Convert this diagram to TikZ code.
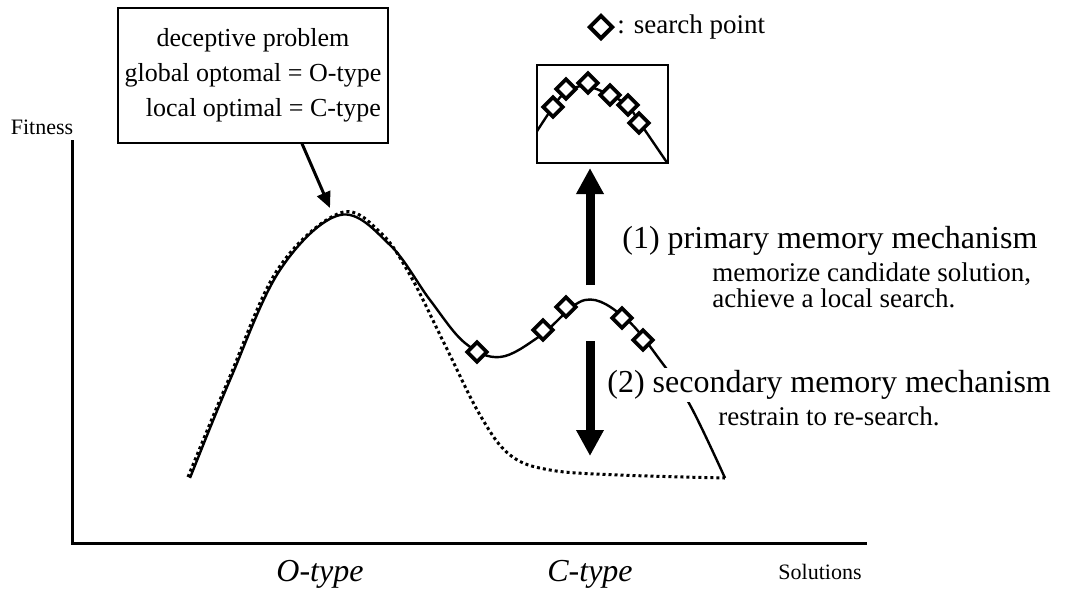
\documentclass[tikz,border=0pt]{standalone}
\usepackage{fontspec}
\setmainfont{Liberation Serif}
\usetikzlibrary{arrows.meta,shapes.geometric}
\newcommand\fbig{\fontsize{16}{19}\selectfont}
\newcommand\fprob{\fontsize{13}{17.5}\selectfont}
\newcommand\fmid{\fontsize{13.5}{13}\selectfont}
\newcommand\fsml{\fontsize{11}{13}\selectfont}

\begin{document}
\begin{tikzpicture}[x=0.5pt,y=-0.5pt,
        srchpt/.style={diamond,draw,line width=1.8pt,fill=white,inner sep=0pt,minimum size=10.5pt},
        fatarrow/.style={line width=4.5pt,-{Triangle[width=13pt,length=13pt]}},
        lbl/.style={inner sep=0pt,anchor=west}]
    \useasboundingbox (0,0) rectangle (1067,591);
    % axes
    \coordinate (ytop) at (72,140);
    \coordinate (orig) at (72,543);
    \coordinate (xend) at (867,543);
    \draw[line width=1.5pt] (ytop) -- (orig) -- (xend);
    \node[font=\fsml] (fit) at (42,127) {Fitness};
    \node[font=\fsml] (sol) at (820,572) {Solutions};
    \node[font=\fbig\itshape] (otype) at (320,574) {O-type};
    \node[font=\fbig\itshape] (ctype) at (590,574) {C-type};
    % fitness curves
    \draw[line width=1.5pt,dash pattern=on 1.5pt off 1.5pt] plot[smooth,tension=0.6] coordinates
        {(188,477) (228,381) (278,269) (340,213) (380,232) (410,275) (445,345) (480,415) (510,455) (550,470) (620,475) (725,478)};
    \draw[line width=1.2pt] plot[smooth,tension=0.6] coordinates
        {(190,478) (230,380) (280,270) (340,215) (390,245) (430,300) (465,343) (500,357) (540,336) (585,300) (625,318) (660,360) (690,405) (725,478)};
    \foreach \p [count=\i] in {(477,352),(543,330),(566,307),(622,318),(643,340)}
        \node[srchpt] (p\i) at \p {};
    % problem box
    \node[draw,line width=0.6pt,align=center,minimum width=135pt,minimum height=67.5pt,inner xsep=2pt,font=\fprob] (prob) at (253,75.5)
        {deceptive problem\\global optomal = O-type\\\hspace*{0.8em}local optimal = C-type};
    \coordinate (peakO) at (330,208);
    \draw[line width=1.5pt,-{Triangle[width=7pt,length=8pt]}] ([xshift=24.5pt]prob.south) -- (peakO);
    % zoomed view
    \node[draw,line width=0.8pt,minimum width=65.5pt,minimum height=49pt,inner sep=0pt] (inset) at (602.5,114) {};
    \begin{scope}
        \clip (inset.south west) rectangle (inset.north east);
        \draw[line width=1.2pt] plot[smooth,tension=0.6] coordinates
            {(530,142) (553,107) (566,92) (585,86) (610,95) (628,106) (640,123) (668,164)};
    \end{scope}
    \foreach \p [count=\i] in {(553,107),(566,89),(588,83),(610,95),(628,105),(639,123)}
        \node[srchpt] (q\i) at \p {};
    % memory arrows
    \coordinate (upfrom) at (590,285);
    \coordinate (uptip) at (590,168);
    \coordinate (dnfrom) at (590,341);
    \coordinate (dntip) at (590,456);
    \draw[fatarrow] (upfrom) -- (uptip);
    \draw[fatarrow] (dnfrom) -- (dntip);
    \node[lbl,font=\fbig] (mem1) at (622,241) {(1) primary memory mechanism};
    \node[lbl,font=\fmid,align=left] (mem1d) at (712,285) {memorize candidate solution,\\achieve a local search.};
    \node[lbl,font=\fbig,fill=white,inner sep=1pt] (mem2) at (605,385) {(2) secondary memory mechanism};
    \node[lbl,font=\fmid] (mem2d) at (718,416) {restrain to re-search.};
    % legend
    \node[srchpt,line width=2pt,minimum size=12pt] (key) at (601,27) {};
    \node[lbl,font=\fontsize{13.5}{15}\selectfont] (keytxt) at ([xshift=1pt]key.east) {: search point};
\end{tikzpicture}
\end{document}
